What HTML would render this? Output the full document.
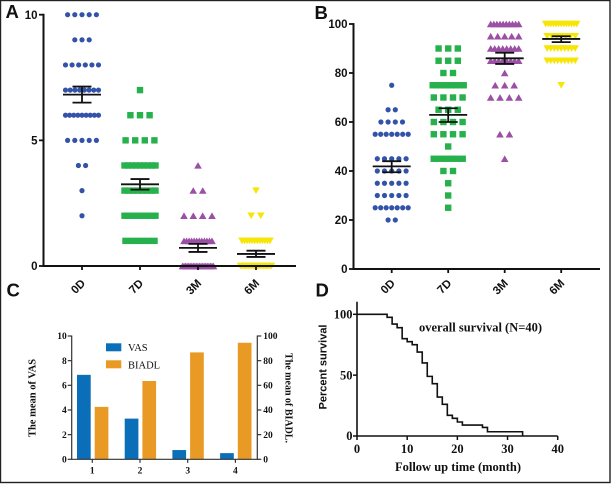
<!DOCTYPE html>
<html>
<head>
<meta charset="utf-8">
<style>
html,body{margin:0;padding:0;background:#fff;}
#fig{display:block;width:611px;height:484px;filter:blur(0.35px);}
text{fill:#111;}
.sb{font-family:"Liberation Sans",sans-serif;font-weight:bold;}
.tb{font-family:"Liberation Serif",serif;font-weight:bold;}
</style>
</head>
<body>
<svg id="fig" xmlns="http://www.w3.org/2000/svg" width="611" height="484" viewBox="0 0 611 484">
<rect x="0.5" y="0.5" width="609.5" height="482" fill="#fff" stroke="#222" stroke-width="1.4"/>
<text class="sb" x="5.5" y="18" font-size="18.5">A</text>
<text class="sb" x="314.5" y="19" font-size="18.5">B</text>
<text class="sb" x="6.5" y="296.5" font-size="18.5">C</text>
<text class="sb" x="315.5" y="296.5" font-size="18.5">D</text>
<g id="panelA"></g>
<g id="panelB"></g>
<g id="panelC"></g>
<g id="panelD"></g>
</svg>
<script>
// Shared categories
const scatterCategories = ['0D','7D','3M','6M'];
const markerColors = ['#3353a8','#27b14d','#9b4fa5','#f6e608'];

// Panel A: score value and number of patients at that value
const aTicks = [0,5,10];
const a0DValues = [10,9,8,7,6,5,4,3,2];
const a0DCounts = [5,3,6,8,9,5,2,1,1];
const a7DValues = [7,6,5,4,3,2,1];
const a7DCounts = [1,3,4,9,8,9,6];
const a3MValues = [4,3,2,1,0];
const a3MCounts = [1,2,4,12,21];
const a6MValues = [3,2,1,0];
const a6MCounts = [1,2,12,25];
const aMeans = [6.82,3.25,0.72,0.48];
const aUpper = [7.14,3.46,0.88,0.61];
const aLower = [6.5,3.04,0.56,0.36];

// Panel B
const bTicks = [0,20,40,60,80,100];
const b0DValues = [75,65,60,55,45,40,35,30,25,20];
const b0DCounts = [1,2,4,7,5,5,5,5,7,2];
const b7DValues = [90,85,80,75,70,65,60,55,50,45,40,35,30,25];
const b7DCounts = [3,3,2,9,4,3,4,4,1,6,2,1,1,1];
const b3MValues = [100,95,90,85,80,75,70,55,45];
const b3MCounts = [10,5,8,8,1,3,4,2,1];
const b6MValues = [100,95,90,85,75];
const b6MCounts = [13,7,9,9,1];
const bMeans = [41.9,62.9,86,93.9];
const bUpper = [44,65.6,88.3,95];
const bLower = [39.5,60,83.7,92.6];

// Panel C
const cGroups = ['1','2','3','4'];
const cVas = [6.85,3.3,0.75,0.5];
const cBiadl = [42.5,63.5,86.7,94.5];
const cLeftTicks = [0,2,4,6,8,10];
const cRightTicks = [0,20,40,60,80,100];

// Panel D
const dMonths = [0,6,7,8,9,10,11,12,13,14,15,16,17,18,19,20,21,25,26,33];
const dSurvival = [100,97.5,92,89,80,77.5,75,69,60,49,43,32,26,17,14.5,11.5,9,7,3.5,0];
const dXTicks = [0,10,20,30,40];
const dYTicks = [0,50,100];

const NS = 'http://www.w3.org/2000/svg';
function mk(parent, tag, attrs, txt){
  const e = document.createElementNS(NS, tag);
  for(const k in attrs) e.setAttribute(k, attrs[k]);
  if(txt !== undefined) e.textContent = txt;
  parent.appendChild(e);
  return e;
}
function tag(e, name){
  
  
  return e;
}
function line(p, x1, y1, x2, y2, w, c){
  return mk(p, 'line', {x1:x1, y1:y1, x2:x2, y2:y2, stroke:c||'#111', 'stroke-width':w||1.6});
}
function rowStep(shape, n){
  if(n < 2) return 0;
  if(shape === 0) return Math.min(7.2, 33/(n-1));
  if(shape === 1) return Math.min(9.6, (n <= 6 ? 29 : 31)/(n-1));
  return Math.min(9.5, (n <= 12 ? 28 : 31)/(n-1));
}
function marker(p, shape, x, y, c){
  if(shape === 0) return mk(p, 'circle', {cx:x, cy:y, r:2.6, fill:c});
  if(shape === 1) return mk(p, 'rect', {x:x-3.2, y:y-3.2, width:6.4, height:6.4, fill:c});
  if(shape === 2) return mk(p, 'polygon', {points:(x-3.8)+','+(y+3.2)+' '+(x+3.8)+','+(y+3.2)+' '+x+','+(y-3.4), fill:c});
  return mk(p, 'polygon', {points:(x-3.8)+','+(y-3.2)+' '+(x+3.8)+','+(y-3.2)+' '+x+','+(y+3.4), fill:c});
}
function scatterPanel(p, cfg){
  const yOf = v => cfg.y0 - (v - 0) * cfg.yScale;
  const xOf = i => cfg.x0 + i * cfg.xStep;
  cfg.series.forEach((s, i) => {
    const g = mk(p, 'g', {});
    tag(g, 'series-' + scatterCategories[i]);
    s.values.forEach((v, r) => {
      const n = s.counts[r];
      const st = rowStep(i, n);
      for(let k = 0; k < n; k++){
        const m = marker(g, i, xOf(i) + (k - (n-1)/2) * st, yOf(v), markerColors[i]);
        
        
      }
    });
  });
  cfg.means.forEach((m, i) => {
    const g = mk(p, 'g', {});
    tag(g, 'error-bar-' + scatterCategories[i]);
    const x = xOf(i);
    line(g, x-19, yOf(m), x+19, yOf(m), 1.8);
    line(g, x, yOf(cfg.upper[i]), x, yOf(cfg.lower[i]), 1.8);
    line(g, x-9.5, yOf(cfg.upper[i]), x+9.5, yOf(cfg.upper[i]), 1.8);
    line(g, x-9.5, yOf(cfg.lower[i]), x+9.5, yOf(cfg.lower[i]), 1.8);
  });
  const ax = mk(p, 'g', {});
  tag(ax, 'axes');
  line(ax, cfg.axisX, yOf(cfg.yMax)-0.9, cfg.axisX, cfg.y0+0.9, 2);
  line(ax, cfg.axisX, cfg.y0, cfg.xEnd, cfg.y0, 2);
  cfg.ticks.forEach(t => {
    line(ax, cfg.axisX-4.5, yOf(t), cfg.axisX, yOf(t), 1.8);
    const l = mk(ax, 'text', {x:cfg.axisX-6, y:yOf(t)+4.2, 'text-anchor':'end', 'font-size':11.5, class:'sb'}, t);
    tag(l, 'y-tick-label');
  });
  scatterCategories.forEach((c, i) => {
    line(ax, xOf(i), cfg.y0, xOf(i), cfg.y0+4, 1.8);
    const tx = xOf(i) + 4, ty = cfg.labelY;
    const l = mk(ax, 'text', {x:tx, y:ty, 'text-anchor':'end', 'font-size':11.5, class:'sb', transform:'rotate(-45 '+tx+' '+ty+')'}, c);
    tag(l, 'x-tick-label');
  });
}
scatterPanel(document.getElementById('panelA'), {
  x0:82, xStep:58, y0:266, yScale:25.13, yMax:10, axisX:43.5, xEnd:296, labelY:284,
  ticks:aTicks, means:aMeans, upper:aUpper, lower:aLower,
  series:[
    {values:a0DValues, counts:a0DCounts},
    {values:a7DValues, counts:a7DCounts},
    {values:a3MValues, counts:a3MCounts},
    {values:a6MValues, counts:a6MCounts}
  ]
});
scatterPanel(document.getElementById('panelB'), {
  x0:391.7, xStep:56.5, y0:269, yScale:2.45, yMax:100, axisX:353.5, xEnd:600, labelY:284,
  ticks:bTicks, means:bMeans, upper:bUpper, lower:bLower,
  series:[
    {values:b0DValues, counts:b0DCounts},
    {values:b7DValues, counts:b7DCounts},
    {values:b3MValues, counts:b3MCounts},
    {values:b6MValues, counts:b6MCounts}
  ]
});

// Panel C
(function(){
  const p = document.getElementById('panelC');
  const y0 = 459.3, h = 123.3, xL = 71.7, xR = 257.3;
  const yL = v => y0 - v/10*h;
  const yR = v => y0 - v/100*h;
  const xG = i => 92.3 + i*47.7;
  const bw = 13.7;
  cGroups.forEach((g, i) => {
    const b1 = mk(p, 'rect', {x:xG(i)-15.3, y:yL(cVas[i]), width:bw, height:y0-yL(cVas[i]), fill:'#0a6fb8'});
    
    
    const b2 = mk(p, 'rect', {x:xG(i)+2.4, y:yR(cBiadl[i]), width:bw, height:y0-yR(cBiadl[i]), fill:'#e89a24'});
    
    
    line(p, xG(i), y0, xG(i), y0+3.5, 1.2, '#333');
    tag(mk(p, 'text', {x:xG(i), y:y0+14, 'text-anchor':'middle', 'font-size':9.5, class:'tb'}, g), 'x-tick-label');
  });
  line(p, xL, y0-h-0.5, xL, y0+0.5, 1.2, '#333');
  line(p, xR, y0-h-0.5, xR, y0+0.5, 1.2, '#333');
  line(p, xL, y0, xR, y0, 1.2, '#333');
  cLeftTicks.forEach(t => {
    line(p, xL-4, yL(t), xL, yL(t), 1.2, '#333');
    tag(mk(p, 'text', {x:xL-5, y:yL(t)+3.2, 'text-anchor':'end', 'font-size':9.5, class:'tb'}, t), 'left-tick-label');
  });
  cRightTicks.forEach(t => {
    line(p, xR, yR(t), xR+4, yR(t), 1.2, '#333');
    tag(mk(p, 'text', {x:xR+6, y:yR(t)+3.2, 'font-size':9.5, class:'tb'}, t), 'right-tick-label');
  });
  tag(mk(p, 'text', {x:0, y:0, transform:'translate(35.5 398) rotate(-90)', 'text-anchor':'middle', 'font-size':10.5, class:'tb'}, 'The mean of VAS'), 'left-axis-title');
  tag(mk(p, 'text', {x:0, y:0, transform:'translate(285.5 398) rotate(90)', 'text-anchor':'middle', 'font-size':10, class:'tb'}, 'The mean of BIADL.'), 'right-axis-title');
  tag(mk(p, 'rect', {x:106, y:343.3, width:15.3, height:8, fill:'#0a6fb8'}), 'legend-swatch-vas');
  tag(mk(p, 'rect', {x:106, y:360.3, width:15.3, height:8, fill:'#e89a24'}), 'legend-swatch-biadl');
  tag(mk(p, 'text', {x:128, y:351, 'font-size':10.5, style:'font-family:"Liberation Serif",serif'}, 'VAS'), 'legend-label-vas');
  tag(mk(p, 'text', {x:128, y:368.5, 'font-size':10.5, style:'font-family:"Liberation Serif",serif'}, 'BIADL'), 'legend-label-biadl');
})();

// Panel D
(function(){
  const p = document.getElementById('panelD');
  const x = m => 357 + m*5.018;
  const y = s => 436 - s*1.217;
  let d = 'M' + x(dMonths[0]) + ' ' + y(dSurvival[0]);
  dMonths.forEach((m, i) => {
    if(i === 0) return;
    d += ' H' + x(m) + ' V' + y(dSurvival[i]);
  });
  tag(mk(p, 'path', {d:d, fill:'none', stroke:'#111', 'stroke-width':1.6}), 'survival-curve');
  line(p, 357, 301.7, 357, 436.7, 1.6);
  line(p, 357, 436, 557.7, 436, 1.6);
  dYTicks.forEach(t => {
    line(p, 353, y(t), 357, y(t), 1.5);
    tag(mk(p, 'text', {x:352.5, y:y(t)+4.2, 'text-anchor':'end', 'font-size':12.5, class:'tb'}, t), 'y-tick-label');
  });
  dXTicks.forEach(t => {
    line(p, x(t), 436, x(t), 440, 1.5);
    tag(mk(p, 'text', {x:x(t), y:453, 'text-anchor':'middle', 'font-size':12.5, class:'tb'}, t), 'x-tick-label');
  });
  tag(mk(p, 'text', {x:0, y:0, transform:'translate(326.5 367) rotate(-90)', 'text-anchor':'middle', 'font-size':11, class:'sb'}, 'Percent survival'), 'y-axis-title');
  tag(mk(p, 'text', {x:458, y:471, 'text-anchor':'middle', 'font-size':12.5, class:'tb'}, 'Follow up time (month)'), 'x-axis-title');
  tag(mk(p, 'text', {x:480.5, y:331.5, 'text-anchor':'middle', 'font-size':12.5, class:'tb'}, 'overall survival (N=40)'), 'chart-annotation');
})();
</script>
</body>
</html>
